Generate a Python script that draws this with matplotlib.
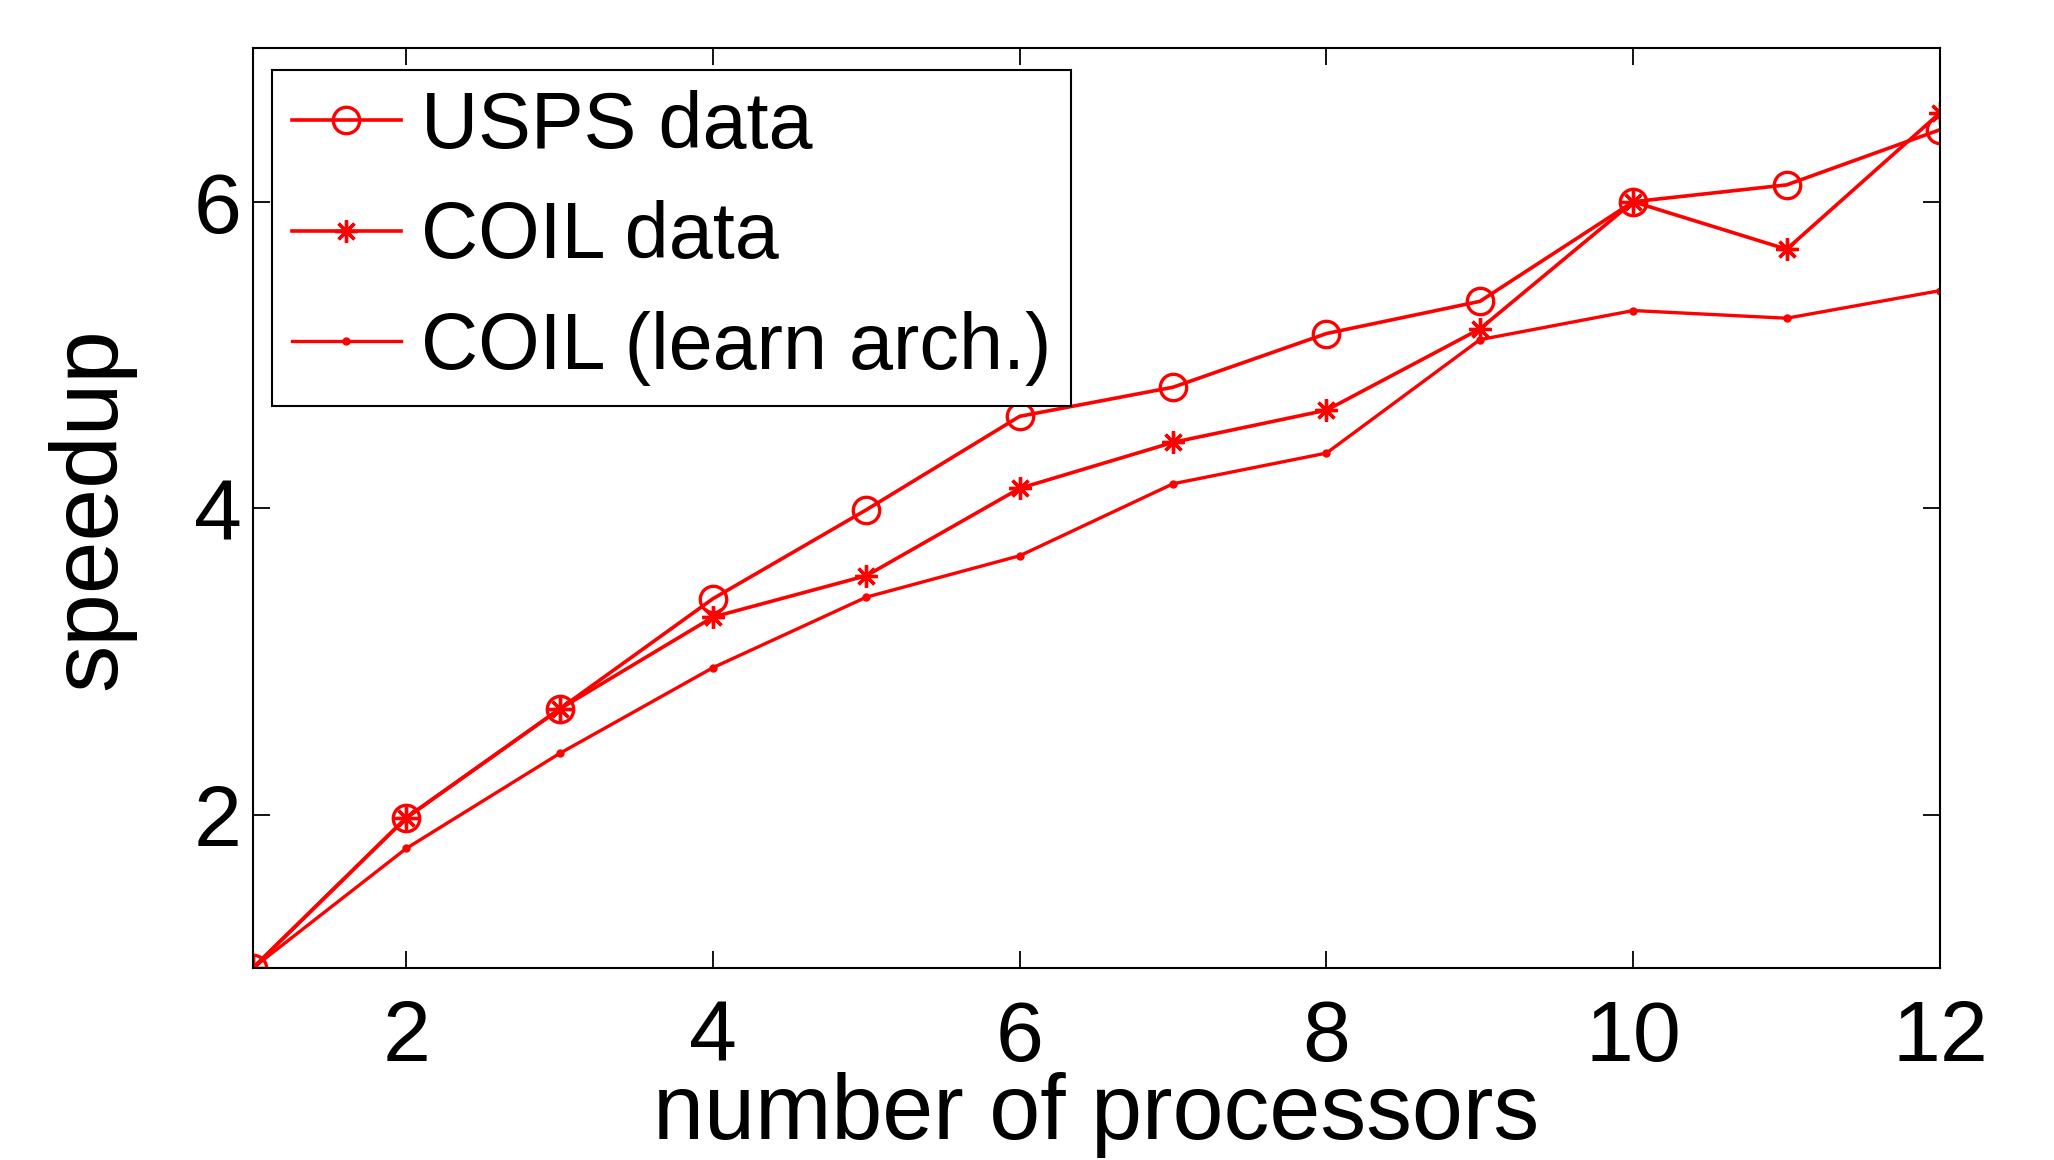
import matplotlib
matplotlib.use("Agg")
import matplotlib.pyplot as plt

# speedup vs number of processors
processors = [1, 2, 3, 4, 5, 6, 7, 8, 9, 10, 11, 12]
usps_speedup = [1.0, 1.98, 2.69, 3.41, 3.99, 4.60, 4.79, 5.14, 5.35, 6.0, 6.11, 6.47]
coil_speedup = [1.0, 1.98, 2.69, 3.29, 3.56, 4.13, 4.43, 4.64, 5.17, 6.0, 5.69, 6.58]
coil_learn_speedup = [1.0, 1.78, 2.40, 2.96, 3.42, 3.69, 4.16, 4.36, 5.10, 5.29, 5.24, 5.42]

series_labels = ["USPS data", "COIL data", "COIL (learn arch.)"]
x_ticks = [2, 4, 6, 8, 10, 12]
y_ticks = [2, 4, 6]

plt.rcParams["font.family"] = ["Liberation Sans", "DejaVu Sans"]

fig = plt.figure(figsize=(20.54, 11.6), dpi=100)
ax = fig.add_axes([0.1231, 0.1655, 0.8214, 0.7927])

red = (1, 0, 0)
ax.plot(processors, usps_speedup, color=red, lw=2.6, marker="o", ms=19,
        mfc="none", mec=red, mew=2.4, label=series_labels[0])
ax.plot(processors, coil_speedup, color=red, lw=2.6, marker=(8, 2, 0), ms=16,
        mec=red, mew=2.4, label=series_labels[1])
ax.plot(processors, coil_learn_speedup, color=red, lw=2.4, marker="o", ms=5,
        mfc=red, mec=red, label=series_labels[2])

ax.set_xlim(1, 12)
ax.set_ylim(1, 7)
ax.set_xticks(x_ticks)
ax.set_yticks(y_ticks)
ax.tick_params(direction="in", length=12, width=1.3, labelsize=62,
               top=True, right=True, pad=8)
ax.tick_params(axis="x", pad=22)
for s in ax.spines.values():
    s.set_linewidth(1.5)

ax.set_xlabel("number of processors", fontsize=66, labelpad=-5)
ax.set_ylabel("speedup", fontsize=68, labelpad=42)

leg = ax.legend(loc="upper left", bbox_to_anchor=(272 / 2054, 1 - 70 / 1160),
                bbox_transform=fig.transFigure, borderaxespad=0,
                fontsize=57, handlelength=1.38, handletextpad=0.25,
                borderpad=0.25, labelspacing=0.45, fancybox=False,
                framealpha=1, edgecolor="black")
leg.get_frame().set_linewidth(1.5)

fig.savefig("out.png", dpi=100)
